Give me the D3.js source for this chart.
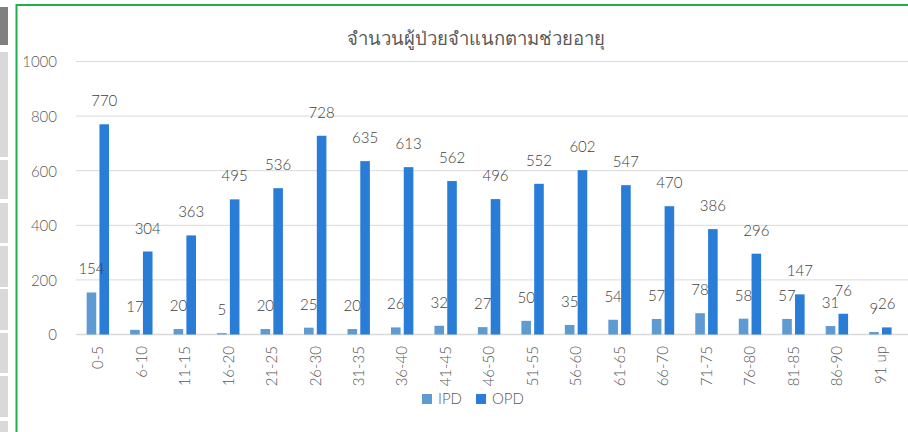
<!DOCTYPE html>
<html><head><meta charset="utf-8">
<script src="https://cdn.jsdelivr.net/npm/d3@7"></script>
<style>
html,body{margin:0;padding:0;background:#fff;}
svg{display:block;}
text{font-family:Lato,"Noto Sans",sans-serif;font-weight:300;}
</style></head>
<body>
<svg id="c" width="908" height="432"></svg>
<script>
const categories = ["0-5","6-10","11-15","16-20","21-25","26-30","31-35","36-40","41-45","46-50","51-55","56-60","61-65","66-70","71-75","76-80","81-85","86-90","91 up"];
const seriesNames = ["IPD","OPD"];
const ipd = [154,17,20,5,20,25,20,26,32,27,50,35,54,57,78,58,57,31,9];
const opd = [770,304,363,495,536,728,635,613,562,496,552,602,547,470,386,296,147,76,26];
const yTicks = [0,200,400,600,800,1000];
const title = "จำนวนผู้ป่วยจำแนกตามช่วยอายุ";
const colors = {IPD:"#5f9bd3", OPD:"#2a7dd6"};
const FONT = 'Lato,"Noto Sans",sans-serif';

const svg = d3.select("#c");

// left strip (spreadsheet UI)
const stripRows = [[7,45,"#808080"],[52,157,"#d9d9d9"],[160,199,"#d9d9d9"],[203,243,"#d9d9d9"],[246,287,"#d9d9d9"],[289,330,"#d9d9d9"],[333,373,"#d9d9d9"],[376,417,"#d9d9d9"],[421,432,"#d9d9d9"]];
svg.selectAll("rect.strip").data(stripRows).join("rect")
  .attr("x",0).attr("width",8).attr("y",d=>d[0]).attr("height",d=>d[1]-d[0]).attr("fill",d=>d[2]);

// green border
svg.append("path").attr("d","M16.5,432 L16.5,5 L908,5").attr("fill","none").attr("stroke","#1fb04e").attr("stroke-width",2);

const x = d3.scaleBand().domain(categories).range([76,902]).padding(0);
const bw = x.bandwidth();
const xs = d3.scaleBand().domain(seriesNames).range([bw*0.245, bw*0.76]).paddingInner(0.25).paddingOuter(0);
const y = d3.scaleLinear().domain([0,1000]).range([334.5,61.5]);

// gridlines
svg.append("g").selectAll("line").data(yTicks).join("line")
  .attr("x1",76).attr("x2",908).attr("y1",d=>y(d)).attr("y2",d=>y(d))
  .attr("stroke","#d9d9d9").attr("stroke-width",d=>d===0?1.5:1);

// y axis labels
const yAxis = d3.axisLeft(y).tickValues(yTicks).tickFormat(d3.format("d")).tickSize(0).tickPadding(0);
const gy = svg.append("g").attr("transform","translate(57,0)").call(yAxis);
gy.select(".domain").remove();
gy.selectAll("text").attr("font-size",15).attr("fill","#595959").attr("dy","0.36em")
  .style("font-family",FONT).style("font-weight",300);

// x axis labels
const xAxis = d3.axisBottom(x).tickSize(0).tickPadding(0);
const gx = svg.append("g").attr("transform","translate(0,346)").call(xAxis);
gx.select(".domain").remove();
gx.selectAll("text").attr("font-size",15).attr("fill","#595959")
  .attr("transform","rotate(-90)").attr("text-anchor","end").attr("x",0).attr("y",0).attr("dy","0.36em")
  .style("font-family",FONT).style("font-weight",300);

const rows = categories.map((c,i)=>({cat:c, IPD:ipd[i], OPD:opd[i]}));
const groups = svg.append("g").selectAll("g").data(rows).join("g")
  .attr("transform",d=>`translate(${x(d.cat)},0)`);
groups.selectAll("rect").data(d=>seriesNames.map(k=>({k, v:d[k]}))).join("rect")
  .attr("x",d=>xs(d.k)).attr("width",xs.bandwidth())
  .attr("y",d=>y(d.v)).attr("height",d=>y(0)-y(d.v)).attr("fill",d=>colors[d.k]);
groups.selectAll("text").data(d=>seriesNames.map(k=>({k, v:d[k]}))).join("text")
  .attr("x",d=>xs(d.k)+xs.bandwidth()/2).attr("y",d=>y(d.v)-18)
  .attr("text-anchor","middle").attr("font-size",15).attr("fill","#404040")
  .style("font-family",FONT).style("font-weight",300)
  .text(d=>d.v);

// title
svg.append("text").attr("x",476).attr("y",45).attr("text-anchor","middle")
  .attr("font-size",18.5).attr("fill","#595959")
  .style("font-family",FONT).style("font-weight",300).text(title);

// legend
const leg = svg.append("g").attr("transform","translate(422,394)");
const li = leg.selectAll("g").data(seriesNames).join("g").attr("transform",(d,i)=>`translate(${i*54},0)`);
li.append("rect").attr("width",10).attr("height",10).attr("fill",d=>colors[d]);
li.append("text").attr("x",16).attr("y",10).attr("font-size",15).attr("fill","#595959")
  .style("font-family",FONT).style("font-weight",300).text(d=>d);
</script>
</body></html>
